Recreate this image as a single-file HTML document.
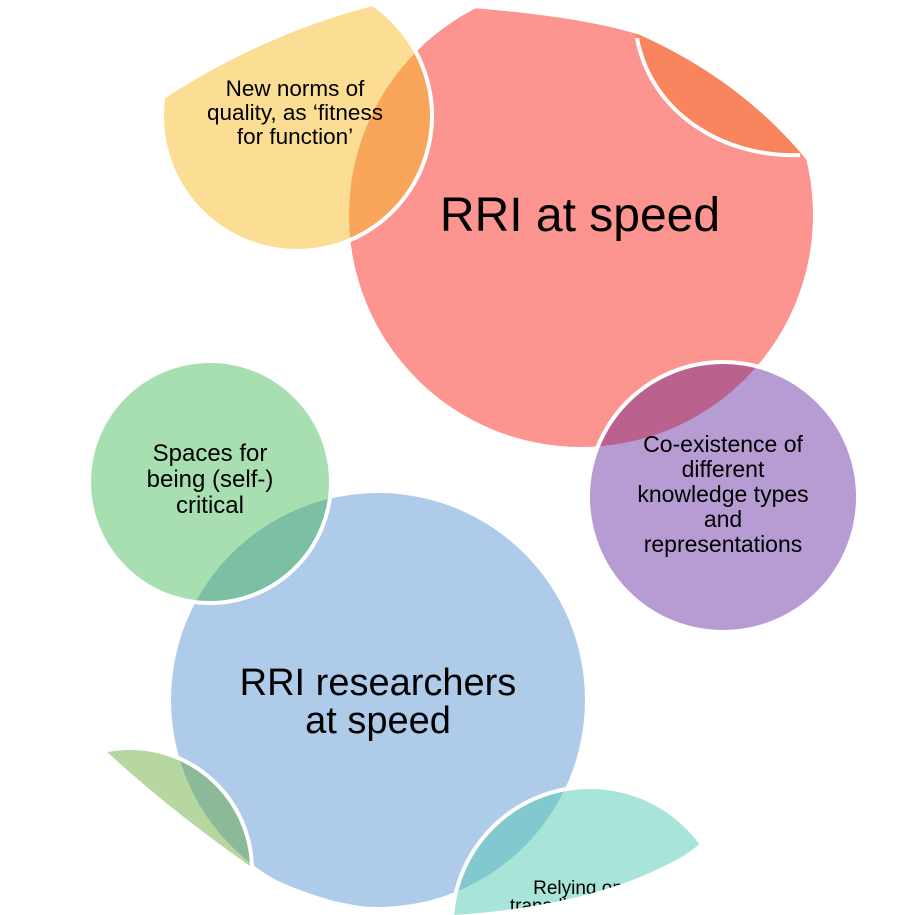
<!DOCTYPE html>
<html><head><meta charset="utf-8"><style>
html,body{margin:0;padding:0;background:#fff;overflow:hidden;width:915px;height:915px;}
svg{display:block;}
text{font-family:"Liberation Sans",Arial,sans-serif;fill:#000;text-anchor:middle;}
</style></head><body>
<svg width="915" height="915" viewBox="0 0 915 915" xmlns="http://www.w3.org/2000/svg">
<defs>
<clipPath id="g"><path d="M162,100 Q270,30 385,3 Q560,10 640,35 Q740,80 805,158 L915,300 L915,600 L858,640 L760,800 L685,855 Q600,905 455,915 Q380,912 330,900 Q280,885 250,866 Q170,810 105,750 L0,700 L0,100 Z"/></clipPath>
<clipPath id="red"><circle cx="581" cy="215" r="232"/></clipPath>
<clipPath id="blue"><circle cx="378" cy="700" r="207"/></clipPath>
</defs>
<g clip-path="url(#g)">
<circle cx="581" cy="215" r="232" fill="#fc9490"/>
<circle cx="378" cy="700" r="207" fill="#afcbea"/>
<path d="M637,38 C650,110 720,158 800,155 L840,0 L620,0 Z" fill="#f8855e" clip-path="url(#red)"/>
<path d="M637,38 C650,110 720,158 800,155" fill="none" stroke="#fff" stroke-width="4"/>
<circle cx="297" cy="116" r="135" fill="#fcdd94"/>
<circle cx="297" cy="116" r="135" fill="#f9a65a" clip-path="url(#red)"/>
<circle cx="297" cy="116" r="135" fill="none" stroke="#fff" stroke-width="4"/>
<circle cx="723" cy="497" r="135" fill="#b79bd3"/>
<circle cx="723" cy="497" r="135" fill="#b9628e" clip-path="url(#red)"/>
<circle cx="723" cy="497" r="135" fill="none" stroke="#fff" stroke-width="4"/>
<circle cx="210" cy="482" r="121" fill="#a8dfb1"/>
<circle cx="210" cy="482" r="121" fill="#7bbfa4" clip-path="url(#blue)"/>
<circle cx="210" cy="482" r="121" fill="none" stroke="#fff" stroke-width="4"/>
<circle cx="130" cy="870" r="122" fill="#b6d7a0"/>
<circle cx="130" cy="870" r="122" fill="#8cba98" clip-path="url(#blue)"/>
<circle cx="130" cy="870" r="122" fill="none" stroke="#fff" stroke-width="4"/>
<circle cx="590" cy="925" r="138" fill="#a9e4d8"/>
<circle cx="590" cy="925" r="138" fill="#81c9cf" clip-path="url(#blue)"/>
<circle cx="590" cy="925" r="138" fill="none" stroke="#fff" stroke-width="4"/>
<text x="578" y="894" font-size="19">Relying on</text>
<text x="578" y="912" font-size="19">transdisciplinary</text>
<text x="182" y="836" font-size="19">ls</text>
</g>
<text font-size="22.5"><tspan x="295" y="96">New norms of</tspan><tspan x="295" y="120">quality, as ‘fitness</tspan><tspan x="295" y="144">for function’</tspan></text>
<text x="580" y="231" font-size="48">RRI at speed</text>
<text font-size="24"><tspan x="210" y="461">Spaces for</tspan><tspan x="210" y="487">being (self-)</tspan><tspan x="210" y="513">critical</tspan></text>
<text font-size="23"><tspan x="723" y="452">Co-existence of</tspan><tspan x="723" y="477">different</tspan><tspan x="723" y="502">knowledge types</tspan><tspan x="723" y="527">and</tspan><tspan x="723" y="552">representations</tspan></text>
<text font-size="38"><tspan x="378" y="695">RRI researchers</tspan><tspan x="378" y="733">at speed</tspan></text>
</svg>
</body></html>
